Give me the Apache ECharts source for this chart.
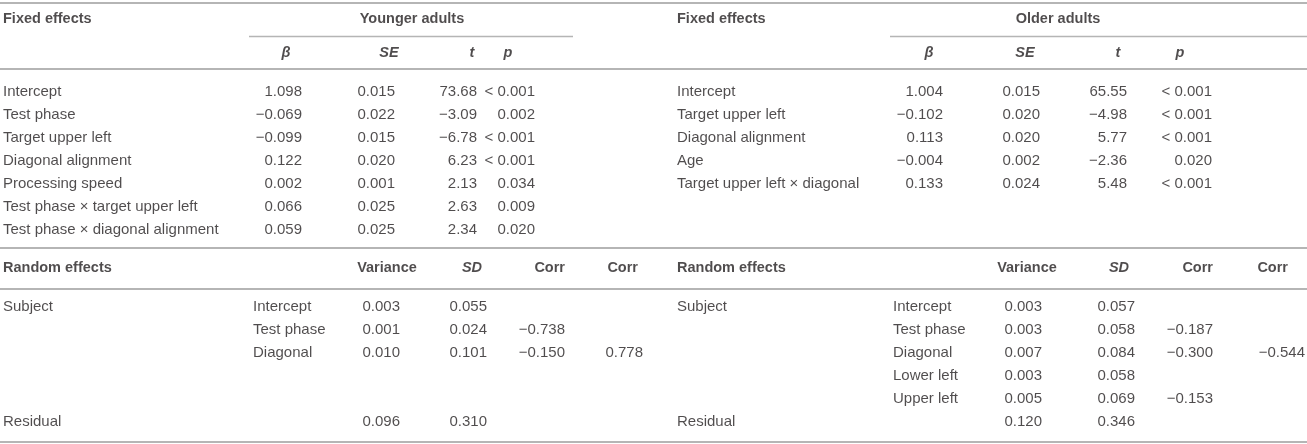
<!DOCTYPE html>
<html>
<head>
<meta charset="utf-8">
<script src="https://cdn.jsdelivr.net/npm/echarts@6/dist/echarts.min.js"></script>
<style>
html,body{margin:0;padding:0;background:#fff;}
#chart{width:1307px;height:444px;}
</style>
</head>
<body>
<div id="chart"></div>
<script>
// ---------- DATA ----------
const youngFixedTerms = ['Intercept','Test phase','Target upper left','Diagonal alignment','Processing speed','Test phase \u00d7 target upper left','Test phase \u00d7 diagonal alignment'];
const youngBeta = [1.098,-0.069,-0.099,0.122,0.002,0.066,0.059];
const youngSE   = [0.015,0.022,0.015,0.020,0.001,0.025,0.025];
const youngT    = [73.68,-3.09,-6.78,6.23,2.13,2.63,2.34];
const youngP    = ['< 0.001','0.002','< 0.001','< 0.001','0.034','0.009','0.020'];

const olderFixedTerms = ['Intercept','Target upper left','Diagonal alignment','Age','Target upper left \u00d7 diagonal'];
const olderBeta = [1.004,-0.102,0.113,-0.004,0.133];
const olderSE   = [0.015,0.020,0.020,0.002,0.024];
const olderT    = [65.55,-4.98,5.77,-2.36,5.48];
const olderP    = ['< 0.001','< 0.001','< 0.001','0.020','< 0.001'];

const youngRandomTerms = ['Intercept','Test phase','Diagonal'];
const youngVar   = [0.003,0.001,0.010];
const youngSD    = [0.055,0.024,0.101];
const youngCorr1 = [null,-0.738,-0.150];
const youngCorr2 = [null,null,0.778];
const youngResidual = [0.096,0.310];

const olderRandomTerms = ['Intercept','Test phase','Diagonal','Lower left','Upper left'];
const olderVar   = [0.003,0.003,0.007,0.003,0.005];
const olderSD    = [0.057,0.058,0.084,0.058,0.069];
const olderCorr1 = [null,-0.187,-0.300,null,-0.153];
const olderCorr2 = [null,null,-0.544,null,null];
const olderResidual = [0.120,0.346];

const groupTitles = ['Younger adults','Older adults'];
const fixedHeaders = ['\u03b2','SE','t','p'];
const randomHeaders = ['Variance','SD','Corr','Corr'];

// ---------- LAYOUT ----------
const W = 1307, H = 444;
const yTitle = 19, ySub = 53, yRandHead = 268;
const fixedRow0 = 92, rowStep = 22.9;
const randRow0 = 307;
const L = { // left (younger) table
  label: 3, beta: 302, se: 395, t: 477, p: 535,
  hBeta: 286, hSE: 389, hT: 472, hP: 508, title: 412,
  sub: 253, v: 400, sd: 487, c1: 565, c2: 643,
  hV: 387, hSD: 472, hC1: 565, hC2: 638,
  ulStart: 249, ulEnd: 573
};
const R = { // right (older) table
  label: 677, beta: 943, se: 1040, t: 1127, p: 1212,
  hBeta: 929, hSE: 1025, hT: 1118, hP: 1180, title: 1058,
  sub: 893, v: 1042, sd: 1135, c1: 1213, c2: 1305,
  hV: 1027, hSD: 1119, hC1: 1213, hC2: 1288,
  ulStart: 890, ulEnd: 1307
};
const ruleY = [2.5, 69, 248, 289, 442];
const ulY = 36;

const TXT = '#231f20';
const RULE = '#b5b5b5';
const FONT = '"Liberation Sans", Arial, Helvetica, sans-serif';

// ---------- HELPERS ----------
const num = (v, d) => (v < 0 ? '\u2212' : '') + Math.abs(v).toFixed(d);
const items = [];
function txt(x, y, text, align, opts) {
  opts = opts || {};
  items.push({
    value: [x, y],
    label: {
      formatter: text,
      align: align,
      fontWeight: opts.bold ? 'bold' : 'normal',
      fontStyle: opts.italic ? 'italic' : 'normal',
      fontSize: opts.bold ? 14.5 : 15
    }
  });
}

function fixedTable(C, title, terms, beta, se, t, p) {
  txt(C.label, yTitle, 'Fixed effects', 'left', {bold: true});
  txt(C.title, yTitle, title, 'center', {bold: true});
  txt(C.hBeta, ySub, fixedHeaders[0], 'center', {bold: true, italic: true});
  txt(C.hSE, ySub, fixedHeaders[1], 'center', {bold: true, italic: true});
  txt(C.hT, ySub, fixedHeaders[2], 'center', {bold: true, italic: true});
  txt(C.hP, ySub, fixedHeaders[3], 'center', {bold: true, italic: true});
  terms.forEach((term, i) => {
    const y = fixedRow0 + i * rowStep;
    txt(C.label, y, term, 'left');
    txt(C.beta, y, num(beta[i], 3), 'right');
    txt(C.se, y, num(se[i], 3), 'right');
    txt(C.t, y, num(t[i], 2), 'right');
    txt(C.p, y, p[i], 'right');
  });
}

function randomTable(C, terms, vr, sd, c1, c2, resid) {
  txt(C.label, yRandHead, 'Random effects', 'left', {bold: true});
  txt(C.hV, yRandHead, randomHeaders[0], 'center', {bold: true});
  txt(C.hSD, yRandHead, randomHeaders[1], 'center', {bold: true, italic: true});
  txt(C.hC1, yRandHead, randomHeaders[2], 'right', {bold: true});
  txt(C.hC2, yRandHead, randomHeaders[3], 'right', {bold: true});
  txt(C.label, randRow0, 'Subject', 'left');
  terms.forEach((term, i) => {
    const y = randRow0 + i * rowStep;
    txt(C.sub, y, term, 'left');
    txt(C.v, y, num(vr[i], 3), 'right');
    txt(C.sd, y, num(sd[i], 3), 'right');
    if (c1[i] !== null) txt(C.c1, y, num(c1[i], 3), 'right');
    if (c2[i] !== null) txt(C.c2, y, num(c2[i], 3), 'right');
  });
  const yRes = randRow0 + 5 * rowStep;
  txt(C.label, yRes, 'Residual', 'left');
  txt(C.v, yRes, num(resid[0], 3), 'right');
  txt(C.sd, yRes, num(resid[1], 3), 'right');
}

fixedTable(L, groupTitles[0], youngFixedTerms, youngBeta, youngSE, youngT, youngP);
fixedTable(R, groupTitles[1], olderFixedTerms, olderBeta, olderSE, olderT, olderP);
randomTable(L, youngRandomTerms, youngVar, youngSD, youngCorr1, youngCorr2, youngResidual);
randomTable(R, olderRandomTerms, olderVar, olderSD, olderCorr1, olderCorr2, olderResidual);

const rules = ruleY.map(y => ({coords: [[0, y], [W, y]], lineStyle: {width: 1.8}}));
rules.push({coords: [[L.ulStart, ulY], [L.ulEnd, ulY]], lineStyle: {width: 1.4}});
rules.push({coords: [[R.ulStart, ulY], [R.ulEnd, ulY]], lineStyle: {width: 1.4}});

const chart = echarts.init(document.getElementById('chart'), null, {renderer: 'canvas'});
chart.setOption({
  animation: false,
  backgroundColor: '#fff',
  grid: {left: 0, right: 0, top: 0, bottom: 0},
  xAxis: {type: 'value', min: 0, max: W, show: false},
  yAxis: {type: 'value', min: 0, max: H, inverse: true, show: false},
  series: [
    {
      type: 'lines',
      coordinateSystem: 'cartesian2d',
      silent: true,
      lineStyle: {color: RULE, width: 1.8, opacity: 1},
      data: rules
    },
    {
      type: 'scatter',
      silent: true,
      symbol: 'circle',
      symbolSize: 1,
      itemStyle: {color: 'rgba(0,0,0,0)'},
      labelLayout: {hideOverlap: false},
      label: {
        show: true,
        position: 'inside',
        verticalAlign: 'middle',
        color: TXT,
        fontFamily: FONT,
        fontSize: 15
      },
      data: items
    }
  ]
});
</script>
</body>
</html>
